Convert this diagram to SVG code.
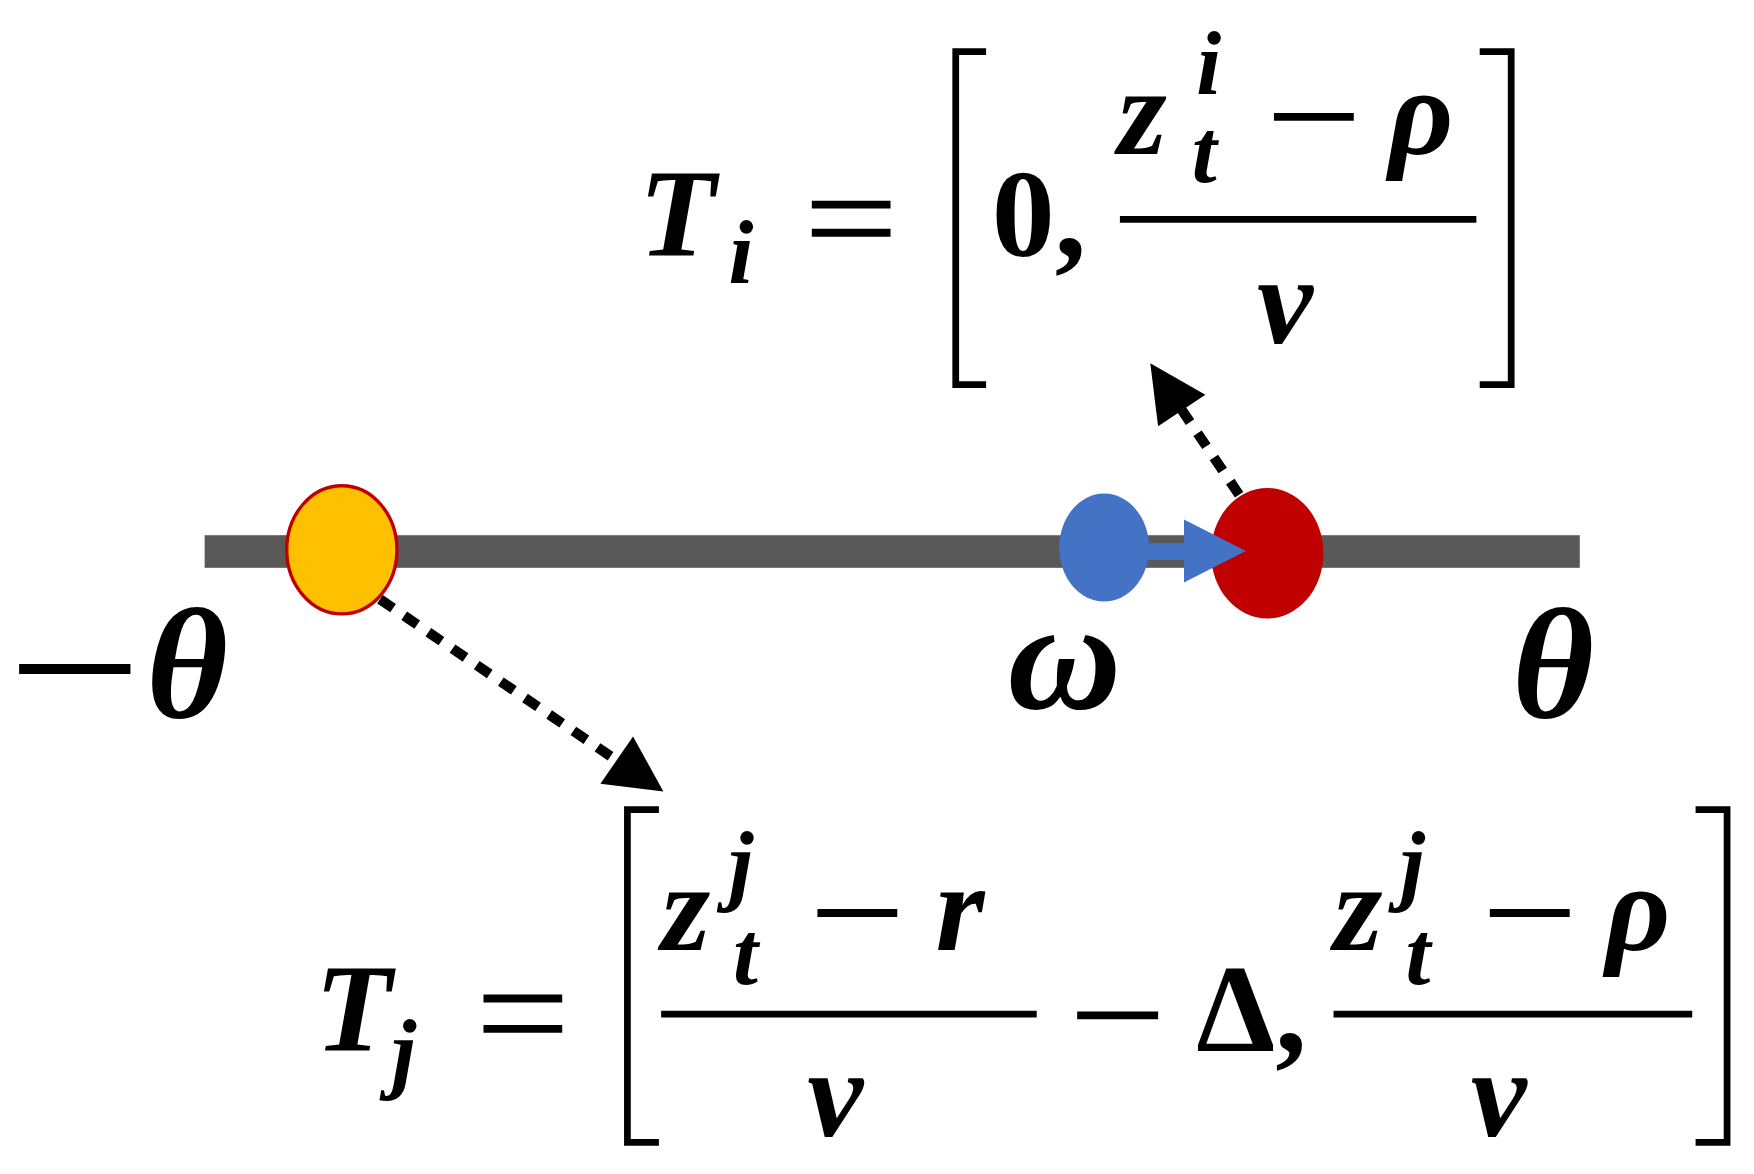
<svg xmlns="http://www.w3.org/2000/svg" width="1754" height="1174" viewBox="0 0 1754 1174">
<style>
.m{font-family:"Liberation Serif","DejaVu Serif",serif;font-weight:bold;font-style:italic;fill:#000}
.u{font-family:"Liberation Serif","DejaVu Serif",serif;font-weight:bold;fill:#000}
.ln{stroke:#000;fill:none}
.dot{stroke:#000;stroke-width:9;stroke-dasharray:14 12;fill:none}
</style>
<rect width="1754" height="1174" fill="#fff"/>
<g transform="scale(1.1244)">
<g id="axis"><rect x="182" y="476" width="1223" height="29" fill="#595959"/></g>
<g id="connectors">
<line class="dot" x1="338" y1="533" x2="548" y2="676"/>
<polygon points="590,704 563,655 534,697" fill="#000"/>
<line class="dot" x1="1102" y1="440" x2="1050" y2="363"/>
<polygon points="1023,323 1072,351 1030,379" fill="#000"/>
</g>
<g id="nodeYellow"><ellipse cx="304" cy="489" rx="49" ry="57" fill="#FFC000" stroke="#C00000" stroke-width="3"/></g>
<g id="nodeRed"><ellipse cx="1127" cy="492" rx="50" ry="58" fill="#C00000"/></g>
<g id="nodeBlue"><ellipse cx="982" cy="487" rx="40" ry="48" fill="#4472C4"/>
<rect x="1020" y="483" width="36" height="15" fill="#4472C4"/>
<polygon points="1053,462 1108,490 1053,518" fill="#4472C4"/></g>
<g id="labels">
<line class="ln" x1="17" y1="595" x2="116" y2="595" stroke-width="9"/>
<text class="m" x="130" y="638" font-size="140">θ</text>
<text class="m" x="896" y="630" font-size="140">ω</text>
<text class="m" x="1345" y="638" font-size="140">θ</text>
</g>
<g id="eqTi">
<text class="m" x="568" y="228" font-size="112">T</text>
<text class="m" x="648" y="252" font-size="80">i</text>
<line class="ln" x1="722" y1="182" x2="792" y2="182" stroke-width="7"/>
<line class="ln" x1="722" y1="207" x2="792" y2="207" stroke-width="7"/>
<path class="ln" stroke-width="6" d="M877,46 H850 V342 H877"/>
<text class="u" x="882" y="228" font-size="112">0,</text>
<line class="ln" x1="996" y1="195" x2="1313" y2="195" stroke-width="6"/>
<text class="m" x="994" y="137" font-size="112">z</text>
<text class="m" x="1064" y="84" font-size="80">i</text>
<text class="m" x="1060" y="162" font-size="80">t</text>
<line class="ln" x1="1133" y1="104" x2="1204" y2="104" stroke-width="7"/>
<text class="m" x="1235" y="137" font-size="112">ρ</text>
<text class="m" x="1118" y="305" font-size="112">v</text>
<path class="ln" stroke-width="6" d="M1316,46 H1344 V342 H1316"/>
</g>
<g id="eqTj">
<text class="m" x="280" y="935" font-size="112">T</text>
<text class="m" x="348" y="962" font-size="80">j</text>
<line class="ln" x1="430" y1="888" x2="500" y2="888" stroke-width="7"/>
<line class="ln" x1="430" y1="915" x2="500" y2="915" stroke-width="7"/>
<path class="ln" stroke-width="6" d="M586,720 H558 V1016 H586"/>
<line class="ln" x1="588" y1="902" x2="922" y2="902" stroke-width="6"/>
<text class="m" x="588" y="845" font-size="112">z</text>
<text class="m" x="648" y="795" font-size="80">j</text>
<text class="m" x="652" y="875" font-size="80">t</text>
<line class="ln" x1="727" y1="812" x2="798" y2="812" stroke-width="7"/>
<text class="m" x="832" y="845" font-size="112">r</text>
<text class="m" x="718" y="1010" font-size="112">v</text>
<line class="ln" x1="958" y1="903" x2="1030" y2="903" stroke-width="7"/>
<text class="u" x="1064" y="935" font-size="112">Δ,</text>
<line class="ln" x1="1186" y1="902" x2="1505" y2="902" stroke-width="6"/>
<text class="m" x="1186" y="845" font-size="112">z</text>
<text class="m" x="1245" y="795" font-size="80">j</text>
<text class="m" x="1250" y="875" font-size="80">t</text>
<line class="ln" x1="1325" y1="812" x2="1396" y2="812" stroke-width="7"/>
<text class="m" x="1428" y="845" font-size="112">ρ</text>
<text class="m" x="1308" y="1010" font-size="112">v</text>
<path class="ln" stroke-width="6" d="M1508,720 H1536 V1016 H1508"/>
</g>
</g>
</svg>
